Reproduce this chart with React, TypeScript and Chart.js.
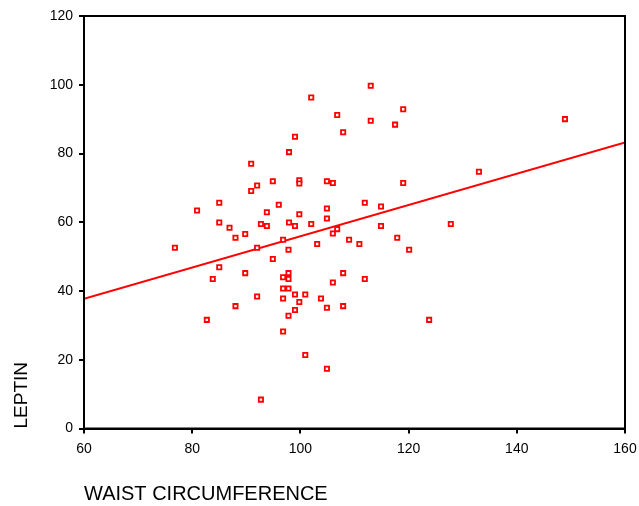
import React, { useEffect, useRef } from "react";
import { Chart, registerables } from "chart.js";

Chart.register(...registerables);

const waist = [
  102.0, 99.0, 97.9, 90.9, 94.9, 99.8, 99.8, 92.0, 90.9, 85.0,
  96.0, 80.9, 93.8, 99.8, 85.0, 86.9, 92.7, 93.8, 97.9, 99.0,
  102.0, 88.0, 89.8, 76.8, 92.0, 96.8, 97.8, 103.1, 94.9, 85.0,
  89.8, 83.8, 96.8, 97.8, 97.8, 96.8, 97.8, 99.0, 100.9, 92.0,
  96.8, 103.8, 99.8, 99.0, 88.0, 97.8, 82.7, 96.8, 100.9, 92.7,
  113.0, 106.8, 119.0, 113.0, 117.5, 107.9, 104.9, 106.0, 119.0, 111.9,
  114.9, 104.9, 104.9, 106.8, 114.9, 127.8, 106.0, 109.0, 110.9, 117.9,
  120.1, 107.9, 106.0, 111.9, 104.9, 107.9, 123.8, 104.9, 148.9, 133.0,
];

const leptin = [
  96.3, 84.9, 80.4, 77.0, 71.9, 72.2, 71.3, 70.7, 69.1, 65.7,
  65.1, 63.4, 62.9, 62.3, 59.9, 58.4, 59.5, 58.9, 59.9, 58.9,
  59.5, 55.5, 56.6, 52.6, 52.6, 54.9, 52.0, 53.7, 49.3, 46.9,
  45.2, 43.5, 44.0, 45.2, 43.5, 40.7, 40.7, 39.0, 39.0, 38.4,
  37.8, 37.8, 36.8, 34.5, 35.6, 32.8, 31.6, 28.2, 21.4, 8.4,
  99.7, 91.2, 92.9, 89.5, 88.4, 86.2, 71.9, 71.4, 71.4, 65.7,
  64.6, 64.0, 61.1, 58.0, 58.9, 59.5, 56.7, 54.9, 53.7, 55.5,
  52.0, 45.2, 42.5, 43.5, 35.1, 35.6, 31.6, 17.4, 90.0, 74.7,
];

const fitX = [60, 160];
const fitY = [37.7, 83.2];

const xTicks = [60, 80, 100, 120, 140, 160];
const yTicks = [0, 20, 40, 60, 80, 100, 120];

const FONT = "'Liberation Sans', Arial, sans-serif";

export default function App() {
  const ref = useRef<HTMLCanvasElement | null>(null);

  useEffect(() => {
    if (!ref.current) return;
    const frame = {
      id: "frame",
      afterDatasetsDraw(chart: any) {
        const { ctx, chartArea } = chart;
        ctx.save();
        ctx.strokeStyle = "#000";
        ctx.lineWidth = 2;
        ctx.strokeRect(
          chartArea.left,
          chartArea.top,
          chartArea.right - chartArea.left,
          chartArea.bottom - chartArea.top
        );
        ctx.restore();
      },
    };
    const chart = new Chart(ref.current, {
      type: "scatter",
      data: {
        datasets: [
          {
            label: "LEPTIN",
            data: waist.map((w, i) => ({ x: w, y: leptin[i] })),
            pointStyle: "rect",
            radius: 3,
            borderWidth: 1.8,
            borderColor: "#ff0000",
            backgroundColor: "#ffffff",
          },
          {
            type: "line",
            label: "Fit",
            data: fitX.map((x, i) => ({ x, y: fitY[i] })),
            borderColor: "#ff0000",
            borderWidth: 2,
            pointRadius: 0,
            fill: false,
          } as any,
        ],
      },
      options: {
        animation: false,
        responsive: false,
        events: [],
        layout: { padding: { left: 0, top: 16, right: 14, bottom: 0 } },
        plugins: {
          legend: { display: false },
          tooltip: { enabled: false },
        },
        scales: {
          x: {
            type: "linear",
            min: 60,
            max: 160,
            afterBuildTicks: (s: any) => {
              s.ticks = xTicks.map((v) => ({ value: v }));
            },
            afterFit: (s: any) => {
              s.height = 77.5;
              s.paddingRight = 0;
              s.paddingLeft = 0;
            },
            ticks: {
              color: "#000",
              font: { family: FONT, size: 14 },
              padding: 7,
              maxRotation: 0,
              autoSkip: false,
            },
            grid: {
              drawOnChartArea: false,
              drawTicks: true,
              tickLength: 5,
              color: "#000",
              lineWidth: 2,
            },
            border: { display: true, color: "#000", width: 2 },
            title: {
              display: true,
              text: "WAIST CIRCUMFERENCE",
              align: "start",
              color: "#000",
              font: { family: FONT, size: 20 },
              padding: { top: 0, bottom: 0 },
            },
          },
          y: {
            type: "linear",
            min: 0,
            max: 120,
            afterBuildTicks: (s: any) => {
              s.ticks = yTicks.map((v) => ({ value: v }));
            },
            afterFit: (s: any) => {
              s.width = 84;
              s.paddingTop = 0;
              s.paddingBottom = 0;
            },
            ticks: {
              color: "#000",
              font: { family: FONT, size: 14 },
              padding: 6,
              autoSkip: false,
            },
            grid: {
              drawOnChartArea: false,
              drawTicks: true,
              tickLength: 5,
              color: "#000",
              lineWidth: 2,
            },
            border: { display: true, color: "#000", width: 2 },
            title: {
              display: true,
              text: "LEPTIN",
              align: "start",
              color: "#000",
              font: { family: FONT, size: 19 },
              padding: { top: 10, bottom: 0 },
            },
          },
        },
      },
      plugins: [frame],
    } as any);
    return () => chart.destroy();
  }, []);

  return (
    <div style={{ position: "absolute", left: 0, top: 0, width: 639, height: 506, background: "#fff" }}>
      <canvas ref={ref} width={639} height={506} style={{ width: 639, height: 506 }} />
    </div>
  );
}
